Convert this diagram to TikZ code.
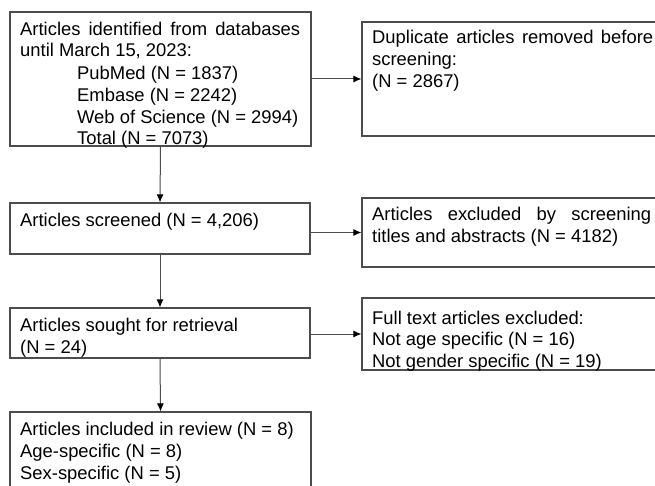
\documentclass[tikz,border=0pt]{standalone}
\usepackage{fontspec}
\setmainfont{Liberation Sans}
\usetikzlibrary{arrows.meta}
\begin{document}
\begin{tikzpicture}[x=1pt,y=-1pt,
  box/.style={draw=black!70,line width=1.2pt,rectangle,inner sep=0pt},
  txt/.style={anchor=base west,inner sep=0pt,font=\fontsize{18.4}{22}\selectfont,text=black},
  arr/.style={draw=black!70,line width=1pt,-{Latex[length=8pt,width=7pt,black]}}]
\useasboundingbox (0,0) rectangle (655,486);
% boxes
\node[box,minimum width=301pt,minimum height=134pt] (b1) at (160.5,79) {};
\node[box,minimum width=300pt,minimum height=114pt] (b2) at (512,79) {};
\node[box,minimum width=300pt,minimum height=51pt] (b3) at (160,228.5) {};
\node[box,minimum width=300pt,minimum height=69pt] (b4) at (512,232.5) {};
\node[box,minimum width=300pt,minimum height=50pt] (b5) at (160,333) {};
\node[box,minimum width=300pt,minimum height=72pt] (b6) at (512,334) {};
\node[box,minimum width=301pt,minimum height=100pt] (b7) at (160.5,462) {};
% texts
\node[txt] (t1a) at (20,35.5) {\makebox[280pt][s]{Articles identified from databases}};
\node[txt] (t1b) at (20,57) {until March 15, 2023:};
\node[txt] (t1c) at (77,79.5) {PubMed (N = 1837)};
\node[txt] (t1d) at (77,101.5) {Embase (N = 2242)};
\node[txt] (t1e) at (77,123.5) {Web of Science (N = 2994)};
\node[txt] (t1f) at (77,145) {Total (N = 7073)};
\node[txt] (t2a) at (372,44) {\makebox[281pt][s]{Duplicate articles removed before}};
\node[txt] (t2b) at (372,66) {screening:};
\node[txt] (t2c) at (372,88) {(N = 2867)};
\node[txt] (t3) at (20,226) {Articles screened (N = 4,206)};
\node[txt] (t4a) at (372,221) {\makebox[279pt][s]{Articles excluded by screening}};
\node[txt] (t4b) at (372,243) {titles and abstracts (N = 4182)};
\node[txt] (t5a) at (20,331) {Articles sought for retrieval};
\node[txt] (t5b) at (20,353) {(N = 24)};
\node[txt] (t6a) at (372,324) {Full text articles excluded:};
\node[txt] (t6b) at (372,345.5) {Not age specific (N = 16)};
\node[txt] (t6c) at (372,367) {Not gender specific (N = 19)};
\node[txt] (t7a) at (20,435) {Articles included in review (N = 8)};
\node[txt] (t7b) at (20,457) {Age-specific (N = 8)};
\node[txt] (t7c) at (20,479) {Sex-specific (N = 5)};
% connectors
\draw[arr] (b1.east) -- (b2.west);
\draw[arr] (b1.south) -- (b3.north);
\draw[arr] (b3.south) -- (b5.north);
\draw[arr] (b5.south) -- (b7.north);
\draw[arr] (b3.east |- b4.west) -- (b4.west);
\draw[arr] (b5.east |- b6.west) -- (b6.west);
\end{tikzpicture}
\end{document}
